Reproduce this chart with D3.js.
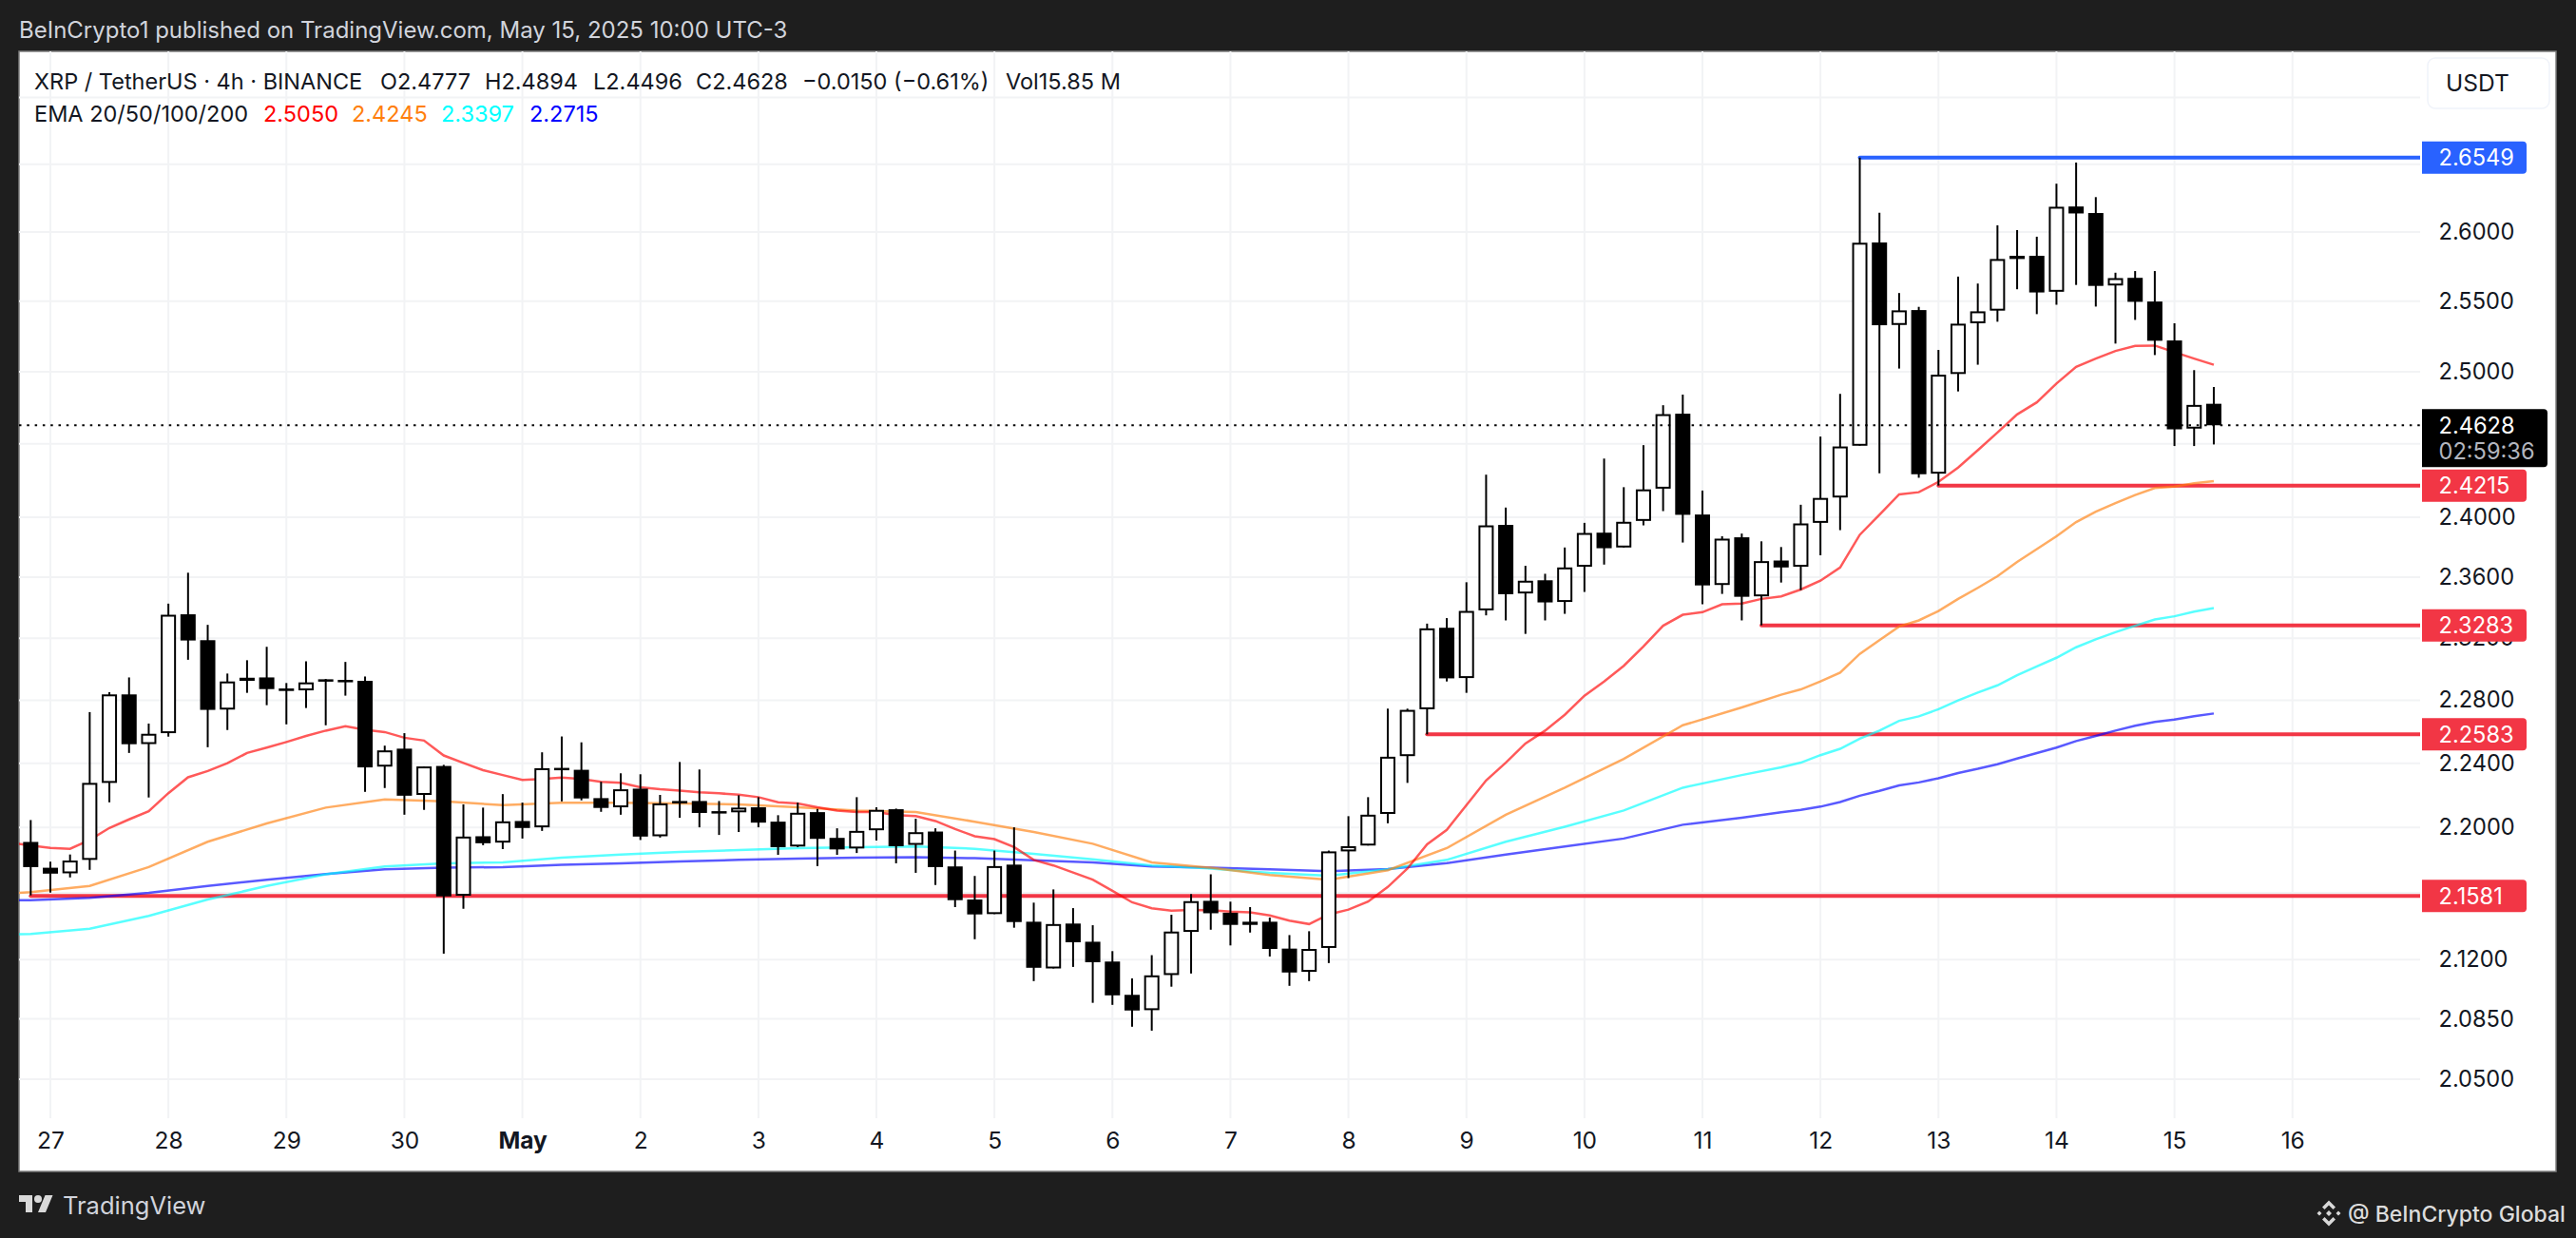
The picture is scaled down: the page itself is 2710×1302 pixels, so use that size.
<!DOCTYPE html>
<html><head><meta charset="utf-8">
<script src="https://cdnjs.cloudflare.com/ajax/libs/d3/7.8.5/d3.min.js"></script>
<style>html,body{margin:0;padding:0;background:#1e1e1e;overflow:hidden}svg{display:block}text{font-family:Inter,"Noto Sans",sans-serif}</style>
</head><body><svg id="c" width="2710" height="1302"></svg>
<script>
const firstBar=-1;
const opens=[2.1911,2.1753,2.1719,2.1801,2.2277,2.2837,2.2521,2.2590,2.3356,2.3187,2.2740,2.2924,2.2946,2.2875,2.2863,2.2934,2.2930,2.2924,2.2379,2.2492,2.2202,2.2383,2.1583,2.1946,2.1907,2.2040,2.2001,2.2371,2.2359,2.2182,2.2125,2.2241,2.1946,
2.2164,2.2164,2.2101,2.2094,2.2125,2.2036,2.1883,2.2095,2.1936,2.1871,2.1983,2.2113,2.1893,2.1975,2.1761,2.1560,2.1472,2.1772,2.1426,2.1147,2.1415,2.1306,2.1188,2.0991,2.0901,2.1108,2.1365,2.1552,2.1480,2.1426,2.1426,2.1265,2.1127,2.1269,
2.1853,2.1889,2.2084,2.2445,2.2742,2.3268,2.2942,2.3382,2.3949,2.3493,2.3580,2.3437,2.3670,2.3897,2.3798,2.3976,2.4194,2.4708,2.4019,2.3549,2.3866,2.3474,2.3711,2.3670,2.3963,2.4134,2.4487,2.5924,2.5331,2.5437,2.4296,2.4985,2.5343,2.5433,2.5827,2.5827,2.5568,2.6187,2.6139,2.5613,2.5668,2.5498,2.5221,2.4605,2.4777];
const highs=[2.2046,2.1790,2.1834,2.2724,2.2851,2.2946,2.2651,2.3426,2.3630,2.3287,2.2971,2.3057,2.3144,2.2910,2.3050,2.2936,2.3046,2.2952,2.2511,2.2590,2.2380,2.2390,2.2143,2.2123,2.2207,2.2154,2.2469,2.2569,2.2532,2.2284,2.2337,2.2331,2.2202,
2.2408,2.2361,2.2164,2.2200,2.2188,2.2076,2.2154,2.2115,2.1995,2.2188,2.2125,2.2117,2.2054,2.1995,2.1858,2.1703,2.1858,2.2001,2.1541,2.1621,2.1508,2.1405,2.1250,2.1088,2.1226,2.1468,2.1593,2.1713,2.1547,2.1514,2.1451,2.1346,2.1369,2.1858,
2.2070,2.2188,2.2746,2.2746,2.3295,2.3331,2.3567,2.4289,2.4066,2.3676,2.3623,2.3798,2.3963,2.4399,2.4204,2.4491,2.4767,2.4841,2.4181,2.3873,2.3891,2.3839,2.3801,2.4085,2.4550,2.4846,2.6549,2.6141,2.5559,2.5460,2.5154,2.5677,2.5627,2.6049,2.6014,2.5966,2.6355,2.6512,2.6256,2.5705,2.5717,2.5717,2.5343,2.5012,2.4894];
const lows=[2.1585,2.1602,2.1694,2.1740,2.2156,2.2465,2.2186,2.2568,2.3060,2.2501,2.2610,2.2847,2.2768,2.2646,2.2750,2.2640,2.2829,2.2221,2.2245,2.2079,2.2109,2.1235,2.1504,2.1891,2.1867,2.1932,2.1979,2.2162,2.2168,2.2097,2.2079,2.1923,2.1938,
2.2060,2.2001,2.1954,2.1972,2.2001,2.1832,2.1879,2.1763,2.1832,2.1843,2.1920,2.1780,2.1722,2.1648,2.1514,2.1321,2.1472,2.1390,2.1072,2.1147,2.1156,2.0944,2.0932,2.0804,2.0781,2.1039,2.1117,2.1378,2.1284,2.1361,2.1218,2.1044,2.1072,2.1179,
2.1690,2.1889,2.2026,2.2277,2.2582,2.2920,2.2847,2.3349,2.3316,2.3228,2.3316,2.3359,2.3503,2.3684,2.3798,2.3946,2.4042,2.3831,2.3422,2.3490,2.3316,2.3284,2.3565,2.3515,2.3746,2.3914,2.4487,2.4298,2.5023,2.4268,2.4215,2.4863,2.5050,2.5354,2.5586,2.5408,2.5475,2.5617,2.5462,2.5199,2.5367,2.5118,2.4485,2.4485,2.4496];
const closes=[2.1757,2.1717,2.1797,2.2277,2.2837,2.2520,2.2586,2.3353,2.3185,2.2738,2.2920,2.2944,2.2871,2.2859,2.2914,2.2926,2.2920,2.2374,2.2481,2.2197,2.2380,2.1579,2.1944,2.1903,2.2038,2.1997,2.2369,2.2359,2.2180,2.2121,2.2237,2.1944,2.2149,
2.2153,2.2090,2.2094,2.2123,2.2030,2.1879,2.2091,2.1930,2.1865,2.1979,2.2109,2.1885,2.1971,2.1757,2.1556,2.1470,2.1763,2.1424,2.1151,2.1412,2.1303,2.1184,2.0988,2.0899,2.1106,2.1367,2.1550,2.1477,2.1407,2.1407,2.1263,2.1123,2.1263,2.1853,
2.1885,2.2079,2.2441,2.2738,2.3264,2.2940,2.3378,2.3946,2.3488,2.3577,2.3434,2.3665,2.3895,2.3793,2.3970,2.4189,2.4705,2.4017,2.3546,2.3857,2.3471,2.3707,2.3665,2.3959,2.4131,2.4482,2.5922,2.5329,2.5435,2.4292,2.4980,2.5340,2.5428,2.5804,2.5804,2.5563,2.6185,2.6136,2.5610,2.5666,2.5496,2.5219,2.4600,2.4769,2.4628];

// EMA 20 was read at every bar, starting at bar -2
const ema20Start=-2;
const ema20=[2.1905,2.1889,2.1875,2.1869,2.1923,2.1997,2.2050,2.2100,2.2213,2.2312,2.2351,2.2400,2.2465,2.2499,2.2534,2.2572,2.2606,2.2634,2.2612,2.2597,2.2561,2.2543,2.2449,2.2402,2.2357,2.2326,2.2296,2.2302,2.2310,2.2302,2.2284,2.2278,2.2250,2.2237,
2.2229,2.2218,2.2212,2.2203,2.2188,2.2156,2.2149,2.2125,2.2105,2.2095,2.2095,2.2076,2.2070,2.2040,2.1991,2.1946,2.1928,2.1879,2.1801,2.1767,2.1724,2.1680,2.1613,2.1543,2.1507,2.1493,2.1497,2.1495,2.1487,2.1483,2.1464,2.1432,2.1412,2.1470,
2.1499,2.1547,2.1636,2.1748,2.1896,2.1985,2.2138,2.2292,2.2404,2.2525,2.2606,2.2707,2.2829,2.2920,2.3021,2.3146,2.3281,2.3353,2.3370,2.3422,2.3426,2.3457,2.3474,2.3519,2.3577,2.3665,2.3883,2.4017,2.4155,2.4170,2.4240,2.4338,2.4456,2.4578,2.4703,2.4787,2.4918,2.5035,2.5093,2.5147,2.5183,2.5185,2.5138,2.5093,2.5050];
const emaBars=[-2,-1,2,5,8,11,14,17,20,23,26,29,32,35,38,41,44,47,50,53,56,59,62,65,68,71,74,77,80,83,86,88,89,90,91,92,93,94,95,96,97,98,99,100,101,102,103,104,105,106,107,108,109,110];
const ema50=[2.1598,2.1604,2.1642,2.1757,2.1912,2.2025,2.2123,2.2174,2.2162,2.2138,2.2153,2.2153,2.2149,2.2143,2.2125,2.2105,2.2095,2.2036,2.1972,2.1900,2.1786,2.1753,2.1709,2.1680,2.1738,2.1873,2.2079,2.2247,2.2428,2.2640,2.2754,2.2835,2.2869,2.2920,2.2977,2.3098,2.3187,2.3276,2.3316,2.3378,2.3457,2.3530,2.3607,2.3702,2.3787,2.3873,2.3968,2.4038,2.4096,2.4151,2.4198,2.4208,2.4230,2.4245];
const ema100=[2.1350,2.1353,2.1384,2.1461,2.1560,2.1642,2.1713,2.1761,2.1780,2.1786,2.1814,2.1834,2.1849,2.1861,2.1873,2.1879,2.1883,2.1869,2.1838,2.1805,2.1767,2.1748,2.1722,2.1705,2.1744,2.1801,2.1912,2.2005,2.2105,2.2247,2.2326,2.2374,2.2404,2.2451,2.2491,2.2555,2.2606,2.2668,2.2697,2.2742,2.2798,2.2849,2.2895,2.2960,2.3017,2.3073,2.3141,2.3193,2.3239,2.3281,2.3322,2.3343,2.3374,2.3397];
const ema200=[2.1556,2.1556,2.1570,2.1600,2.1642,2.1680,2.1715,2.1744,2.1753,2.1757,2.1771,2.1780,2.1791,2.1801,2.1809,2.1814,2.1818,2.1811,2.1799,2.1786,2.1761,2.1753,2.1744,2.1732,2.1745,2.1781,2.1834,2.1883,2.1932,2.2017,2.2060,2.2094,2.2109,2.2129,2.2158,2.2197,2.2227,2.2261,2.2280,2.2306,2.2339,2.2365,2.2394,2.2430,2.2464,2.2499,2.2540,2.2572,2.2606,2.2637,2.2661,2.2677,2.2697,2.2715];
const emaColors=["#ff0000","#ff7f0e","#00ffff","#0000ff"];

const gridPrices=[2.7,2.65,2.6,2.55,2.5,2.45,2.4,2.36,2.32,2.28,2.24,2.2,2.16,2.12,2.085,2.05];
const priceTicks=[2.6,2.55,2.5,2.4,2.36,2.32,2.28,2.24,2.2,2.12,2.085,2.05];
const dayBars=[0,6,12,18,24,30,36,42,48,54,60,66,72,78,84,90,96,102,108,114];
const dayLabels=["27","28","29","30","May","2","3","4","5","6","7","8","9","10","11","12","13","14","15","16"];
const levelPrices=[2.6549,2.4215,2.3283,2.2583,2.1581];
const levelStarts=[92,96,87,70,-1];
const levelColors=["#2962ff","#f23645","#f23645","#f23645","#f23645"];
const lastPrice=2.4628;

const L=20,R=2546,T=54,B=1176,PR=2689,PB=1232;
const x=d3.scaleLinear().domain([-1.595,120.49]).range([L,R]);
const y=d3.scaleLog().domain([2.7352,2.0277]).range([T,B]);
const fmt=d3.format(".4f");
const svg=d3.select("#c");
const bg="#1e1e1e";
svg.append("rect").attr("width",2710).attr("height",1302).attr("fill",bg);
svg.append("rect").attr("x",L).attr("y",T).attr("width",PR-L).attr("height",PB-T).attr("fill","#fff").attr("stroke","#7c7c7c").attr("stroke-width",1.5);
svg.append("defs").append("clipPath").attr("id","pane").append("rect").attr("x",L).attr("y",T).attr("width",R-L).attr("height",B-T);

// grid
const grid=svg.append("g").attr("stroke","#f2f3f5").attr("stroke-width",2);
grid.selectAll("line.h").data(gridPrices).join("line").attr("class","h").attr("x1",L).attr("x2",R).attr("y1",d=>y(d)).attr("y2",d=>y(d));
grid.selectAll("line.v").data(dayBars).join("line").attr("class","v").attr("y1",T).attr("y2",B).attr("x1",d=>x(d)).attr("x2",d=>x(d));

// axes
const yAxis=d3.axisRight(y).tickValues(priceTicks).tickFormat(fmt).tickSize(0).tickPadding(19.5);
const yg=svg.append("g").attr("transform",`translate(${R},0)`).call(yAxis);
yg.select(".domain").remove();
yg.selectAll("text").attr("font-size",23.6).attr("fill","#131722").attr("font-family","Inter");
const xAxis=d3.axisBottom(x).tickValues(dayBars).tickFormat((d,i)=>dayLabels[i]).tickSize(0).tickPadding(15);
const xg=svg.append("g").attr("transform",`translate(0,${B})`).call(xAxis);
xg.select(".domain").remove();
xg.selectAll("text").attr("font-size",24.5).attr("fill","#131722").attr("font-family","Inter").attr("font-weight",(d,i)=>dayLabels[i]==="May"?700:400);

const plot=svg.append("g").attr("clip-path","url(#pane)");
// levels
plot.selectAll("line.lv").data(levelPrices).join("line").attr("class","lv")
 .attr("x1",(d,i)=>x(levelStarts[i])).attr("x2",R).attr("y1",d=>y(d)).attr("y2",d=>y(d))
 .attr("stroke",(d,i)=>levelColors[i]).attr("stroke-width",4).attr("stroke-linecap","round");
// EMA
const line=d3.line().x((d,i)=>x(emaBars[i])).y(d=>y(d));
const line20=d3.line().x((d,i)=>x(ema20Start+i)).y(d=>y(d));
[line(ema200),line(ema100),line(ema50),line20(ema20)].forEach((p,k)=>{
 plot.append("path").attr("d",p).attr("fill","none").attr("stroke",emaColors[3-k]).attr("stroke-opacity",.65).attr("stroke-width",2.5);
});
// candles
const bars=opens.map((o,k)=>({i:k+firstBar,o,h:highs[k],l:lows[k],c:closes[k]}));
const cg=plot.selectAll("g.b").data(bars).join("g").attr("class","b");
cg.append("line").attr("x1",d=>x(d.i)).attr("x2",d=>x(d.i)).attr("y1",d=>y(d.h)).attr("y2",d=>y(d.l)).attr("stroke","#000").attr("stroke-width",2);
cg.append("rect").attr("x",d=>x(d.i)-7).attr("width",14)
 .attr("y",d=>y(Math.max(d.o,d.c))+1).attr("height",d=>Math.max(0.5,y(Math.min(d.o,d.c))-y(Math.max(d.o,d.c))-2))
 .attr("fill",d=>d.c>=d.o?"#fff":"#000").attr("stroke","#000").attr("stroke-width",2);
// last price dotted
svg.append("line").attr("x1",L).attr("x2",R).attr("y1",y(lastPrice)).attr("y2",y(lastPrice)).attr("stroke","#000").attr("stroke-width",2).attr("stroke-dasharray","2.5 5.8");

// price labels
const lab=svg.append("g");
levelPrices.forEach((p,i)=>{
 const yy=y(p);
 lab.append("path").attr("d",`M2548 ${yy-17}H2654a4 4 0 0 1 4 4V${yy+13}a4 4 0 0 1 -4 4H2548Z`).attr("fill",levelColors[i]);
 lab.append("text").attr("x",2565.5).attr("y",yy).attr("dy",".36em").attr("font-size",23.6).attr("fill","#fff").text(fmt(p));
});
const ly=y(lastPrice);
lab.append("path").attr("d",`M2548 ${ly-17}H2676a4 4 0 0 1 4 4V${ly+40}a4 4 0 0 1 -4 4H2548Z`).attr("fill","#000");
lab.append("text").attr("x",2565.5).attr("y",ly).attr("dy",".36em").attr("font-size",23.6).attr("fill","#fff").text(fmt(lastPrice));
lab.append("text").attr("x",2565.5).attr("y",ly+27.5).attr("dy",".36em").attr("font-size",23.6).attr("fill","#b2b5be").text("02:59:36");
// USDT button
lab.append("rect").attr("x",2554).attr("y",61).attr("width",128).attr("height",53).attr("rx",8).attr("fill","#fff").attr("stroke","#f0f3fa").attr("stroke-width",1.5);
lab.append("text").attr("x",2573).attr("y",96).attr("font-size",24.5).attr("fill","#131722").text("USDT");

// header text
const head=svg.append("g");
head.append("text").attr("x",20).attr("y",40).attr("font-size",24).attr("fill","#d1d4dc").text("BeInCrypto1 published on TradingView.com, May 15, 2025 10:00 UTC-3");
const legendSize=23.5;
const l1=[["XRP / TetherUS · 4h · BINANCE",36],["O2.4777",400],["H2.4894",510],["L2.4496",624],["C2.4628",732],["−0.0150 (−0.61%)",844],["Vol15.85 M",1058]];
l1.forEach(([t,px])=>head.append("text").attr("x",px).attr("y",94).attr("font-size",legendSize).attr("fill","#131722").text(t));
head.append("text").attr("x",36).attr("y",128).attr("font-size",legendSize).attr("fill","#131722").text("EMA 20/50/100/200");
[["2.5050",277],["2.4245",370],["2.3397",464],["2.2715",557]].forEach(([t,px],i)=>head.append("text").attr("x",px).attr("y",128).attr("font-size",legendSize).attr("fill",emaColors[i]).text(t));

// footer
const tv=svg.append("g").attr("transform","translate(20,1253)").attr("fill","#d9d9d9");
tv.append("path").attr("d","M14 22H7V11H0V4h14v18zM28 22h-8l7.5-18h8L28 22z");
tv.append("circle").attr("cx",20).attr("cy",8).attr("r",4);
svg.append("text").attr("x",66).attr("y",1277).attr("font-size",25.5).attr("fill","#d1d4dc").text("TradingView");
const bi=svg.append("g").attr("transform","translate(2450,1276)").attr("fill","#d9d9d9");
bi.append("path").attr("d","M0 -13.5L7 -6.5L4.5 -4L0 -8.5L-4.5 -4L-7 -6.5ZM0 13.5L7 6.5L4.5 4L0 8.5L-4.5 4L-7 6.5ZM0 -3L3 0L0 3L-3 0ZM-10 -2.5L-7.5 0L-10 2.5L-12.5 0ZM10 -2.5L12.5 0L10 2.5L7.5 0Z");
svg.append("text").attr("x",2470).attr("y",1285).attr("font-size",23).attr("font-family","Noto Sans").attr("font-weight",500).attr("fill","#dcdcdc").text("@ BeInCrypto Global");
</script></body></html>
